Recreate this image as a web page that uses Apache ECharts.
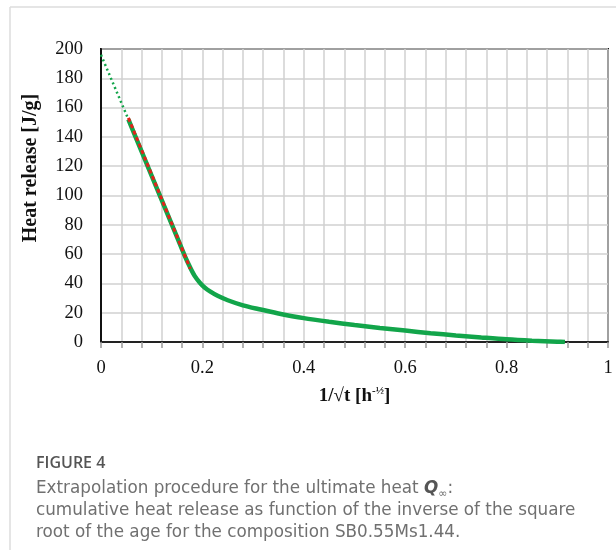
<!DOCTYPE html>
<html>
<head>
<meta charset="utf-8">
<script src="https://cdn.jsdelivr.net/npm/echarts@6/dist/echarts.min.js"></script>
<style>
html,body{margin:0;padding:0;background:#fff;}
#chart{width:616px;height:550px;}
</style>
</head>
<body>
<div id="chart"></div>
<script>
// Measured cumulative heat release vs 1/sqrt(t)
var measX = [0.054, 0.07, 0.09, 0.11, 0.13, 0.15, 0.165, 0.175, 0.185, 0.195, 0.205, 0.215, 0.23, 0.25, 0.28, 0.31, 0.35, 0.4, 0.45, 0.5, 0.55, 0.6, 0.65, 0.7, 0.75, 0.8, 0.85, 0.9, 0.915];
var measY = [152, 138.5, 121.8, 105, 88.3, 71.6, 59, 51.5, 45, 40.5, 37, 34.5, 31.5, 28.5, 25, 22.5, 19.5, 16.3, 13.8, 11.6, 9.6, 7.8, 6, 4.5, 3.1, 1.8, 0.9, 0.25, 0];
// Linear fit (red dashed)
var fitX = [0.054, 0.176];
var fitY = [153, 50];
// Extrapolation to 1/sqrt(t) = 0 (green dotted)
var extX = [0, 0.054];
var extY = [196, 152];

var xTickLabels = ['0', '0.2', '0.4', '0.6', '0.8', '1'];

function pairs(xs, ys) { return xs.map(function (x, i) { return [x, ys[i]]; }); }

var chart = echarts.init(document.getElementById('chart'));
var serif = '"Liberation Serif", "Times New Roman", serif';
var sans = '"DejaVu Sans", "Open Sans", sans-serif';
var sans2 = '"Open Sans", "Noto Sans", sans-serif';

chart.setOption({
  backgroundColor: '#fff',
  animation: false,
  grid: { left: 101, top: 49, width: 507, height: 293, show: true, borderColor: '#111', borderWidth: 2, backgroundColor: 'transparent' },
  xAxis: {
    type: 'value', min: 0, max: 1, interval: 0.04,
    name: '1/√t [h{sup|-½}]', nameLocation: 'middle', nameGap: 44,
    nameTextStyle: {
      fontFamily: serif, fontWeight: 'bold', fontSize: 19, color: '#111',
      rich: { sup: { fontFamily: serif, fontWeight: 'bold', fontSize: 11, color: '#111', verticalAlign: 'top', padding: [0, 0, 9, 0] } }
    },
    axisLine: { show: true, lineStyle: { color: '#222', width: 2 } },
    axisTick: { show: true, length: 6, lineStyle: { color: '#999', width: 1.5 } },
    axisLabel: {
      margin: 17, fontFamily: serif, fontSize: 18.5, color: '#111',
      formatter: function (v) {
        var k = v / 0.2;
        if (Math.abs(k - Math.round(k)) < 1e-6) return xTickLabels[Math.round(k)];
        return '';
      }
    },
    splitLine: { show: true, lineStyle: { color: '#d0d0d0', width: 1.5 } }
  },
  yAxis: {
    type: 'value', min: 0, max: 200, interval: 20,
    axisLine: { show: true, lineStyle: { color: '#111', width: 2 } },
    axisTick: { show: false },
    axisLabel: { margin: 18, fontFamily: serif, fontSize: 18.5, color: '#111' },
    splitLine: { show: true, lineStyle: { color: '#d0d0d0', width: 1.5 } }
  },
  graphic: [
    { type: 'line', shape: { x1: 10, y1: 7, x2: 616, y2: 7 }, style: { stroke: '#dcdcdc', lineWidth: 1.5 } },
    { type: 'line', shape: { x1: 10, y1: 7, x2: 10, y2: 550 }, style: { stroke: '#dcdcdc', lineWidth: 1.5 } },
    { type: 'text', x: 31, y: 168, rotation: Math.PI / 2,
      style: { text: 'Heat release [J/g]', fontFamily: serif, fontWeight: 'bold', fontSize: 20, fill: '#111', align: 'center', verticalAlign: 'middle' } },
    { type: 'text', left: 36, top: 455,
      style: { text: 'FIGURE 4', fontFamily: sans2, fontWeight: 600, fontSize: 16, fill: '#555' } },
    { type: 'text', left: 36, top: 478,
      style: {
        text: 'Extrapolation procedure for the ultimate heat {q|Q}{sub|∞}:\ncumulative heat release as function of the inverse of the square\nroot of the age for the composition SB0.55Ms1.44.',
        fontFamily: sans, fontSize: 16.8, fill: '#707070', lineHeight: 22,
        rich: {
          q: { fontFamily: sans, fontSize: 16.8, fontWeight: 'bold', fontStyle: 'italic', fill: '#555', lineHeight: 22 },
          sub: { fontFamily: sans, fontSize: 11, fill: '#707070', verticalAlign: 'bottom', lineHeight: 22, padding: [6, 0, 0, 0] }
        }
      } }
  ],
  series: [
    { type: 'line', name: 'measured', data: pairs(measX, measY), showSymbol: false, smooth: 0.3,
      lineStyle: { color: '#12a54a', width: 4.5 }, z: 3 },
    { type: 'line', name: 'fit', data: pairs(fitX, fitY), showSymbol: false,
      lineStyle: { color: '#e3211b', width: 3, type: [4, 3] }, z: 4 },
    { type: 'line', name: 'extrapolation', data: pairs(extX, extY), showSymbol: false,
      lineStyle: { color: '#12a54a', width: 2.5, type: [2, 3] }, z: 4 }
  ]
});
</script>
</body>
</html>
